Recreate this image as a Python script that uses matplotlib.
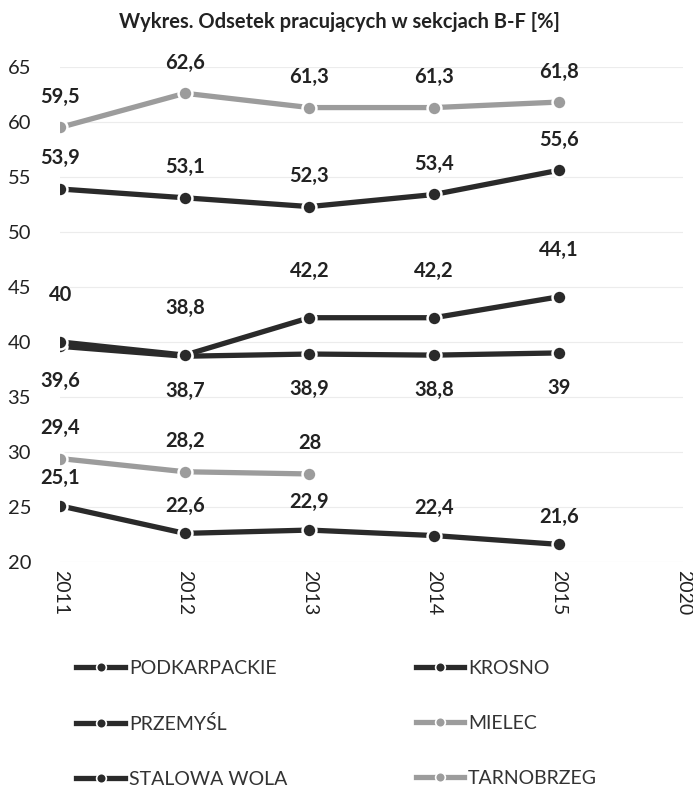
import numpy as np
import matplotlib
matplotlib.use("Agg")
import matplotlib.pyplot as plt
from matplotlib.lines import Line2D

plt.rcParams['font.family'] = ['Lato', 'DejaVu Sans']

# data
years = ['2011', '2012', '2013', '2014', '2015', '2020']
podkarpackie = [39.6, 38.7, 38.9, 38.8, 39.0]
krosno = [40.0, 38.8, 42.2, 42.2, 44.1]
przemysl = [25.1, 22.6, 22.9, 22.4, 21.6]
mielec = [59.5, 62.6, 61.3, 61.3, 61.8]
stalowa_wola = [53.9, 53.1, 52.3, 53.4, 55.6]
tarnobrzeg = [29.4, 28.2, 28.0]

dark = '#2a2a2a'
light = '#9c9c9c'

# name, values, colour, label offset (pt)
series = [
    ('PODKARPACKIE', podkarpackie, dark, -25),
    ('PRZEMYŚL', przemysl, dark, 20),
    ('STALOWA WOLA', stalowa_wola, dark, 22),
    ('KROSNO', krosno, dark, 34),
    ('MIELEC', mielec, light, 22),
    ('TARNOBRZEG', tarnobrzeg, light, 22),
]

fig = plt.figure(figsize=(6.93, 7.96), dpi=100)
ax = fig.add_axes([0.087, 0.294, 0.899, 0.622])

for name, vals, col, off in series:
    x = np.arange(len(vals))
    ax.plot(x, vals, color=col, lw=3.8, marker='o', ms=10,
            mfc=col, mec='white', mew=1.8, solid_capstyle='round', zorder=3)
    for xi, v in zip(x, vals):
        lab = f"{v:g}".replace('.', ',')
        ax.annotate(lab, (xi, v), xytext=(0, off), textcoords='offset points',
                    ha='center', va='center', fontsize=14.5, fontweight='bold',
                    color='#222222')

ax.set_xlim(0, 5)
ax.set_ylim(20, 65)
ax.set_yticks(np.arange(20, 66, 5))
ax.set_xticks(np.arange(len(years)))
ax.set_xticklabels(years, rotation=270, fontsize=14, color='#222222')
ax.tick_params(axis='y', length=0, pad=21, labelsize=14.5, labelcolor='#222222')
ax.tick_params(axis='x', length=0, pad=6)
ax.grid(axis='y', color='#ececec', lw=0.8)
for s in ax.spines.values():
    s.set_visible(False)

fig.text(0.49, 1 - 22 / 796, 'Wykres. Odsetek pracujących w sekcjach B-F [%]',
         ha='center', va='center', fontsize=14.5, fontweight='bold', color='#222222')

handles = [Line2D([0], [0], color=col, lw=3.8, marker='o', ms=7, mfc=col,
                  mec='white', mew=1.2) for name, vals, col, off in series]
labels = [name for name, vals, col, off in series]
fig.legend(handles, labels, ncol=2, loc='upper left', bbox_to_anchor=(0.085, 0.193),
           frameon=False, fontsize=14, handlelength=2.5, handletextpad=0.2,
           columnspacing=6.6, labelspacing=1.95, labelcolor='#333333')

fig.savefig('out.png', dpi=100)
